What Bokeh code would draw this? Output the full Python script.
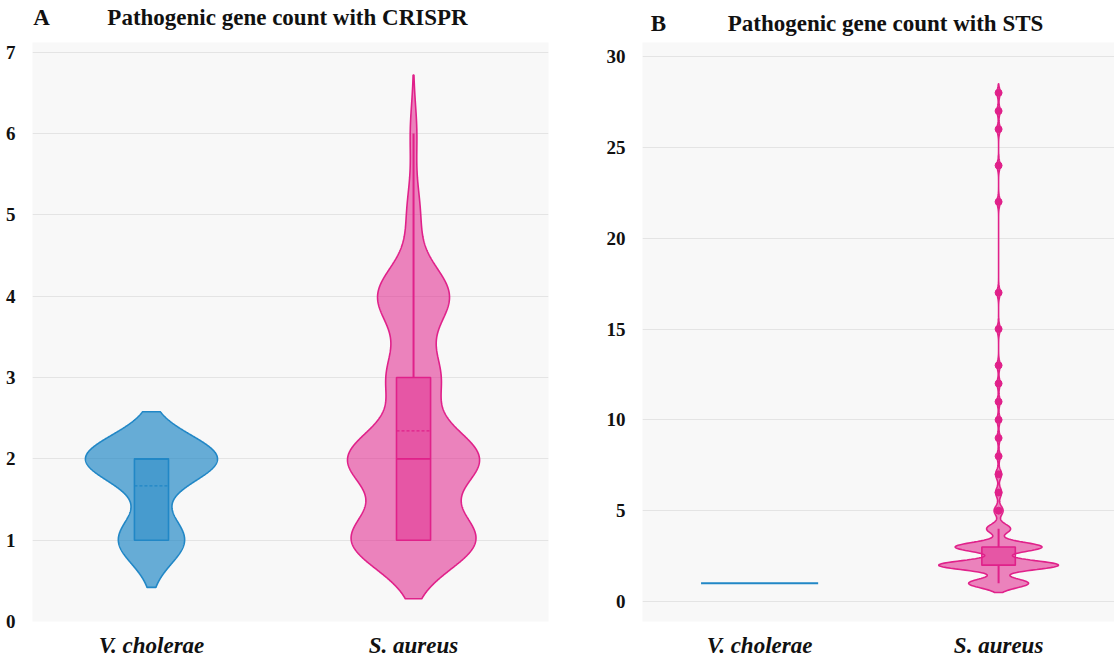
import numpy as np
from bokeh.plotting import figure
from bokeh.layouts import row
from bokeh.models import Range1d, FixedTicker, LinearAxis
from bokeh.embed import file_html
from bokeh.resources import INLINE

# ---------------- data ----------------
species = ["V. cholerae", "S. aureus"]

crispr_values = [1, 2, 3, 4, 5, 6]
crispr_vc_counts = [3, 6, 0, 0, 0, 0]
crispr_sa_counts = [19, 20, 8, 11, 2, 1]

sts_values = [1, 2, 3, 4, 5, 6, 7, 8, 9, 10, 11, 12, 13, 15, 17, 22, 24, 26, 27, 28]
sts_vc_counts = [6, 0, 0, 0, 0, 0, 0, 0, 0, 0, 0, 0, 0, 0, 0, 0, 0, 0, 0, 0]
sts_sa_counts = [20, 40, 29, 8, 3, 2, 2, 1, 1, 1, 1, 1, 1, 1, 1, 1, 1, 1, 1, 1]

crispr_ticks = [0, 1, 2, 3, 4, 5, 6, 7]
sts_ticks = [0, 5, 10, 15, 20, 25, 30]

titles = ["Pathogenic gene count with CRISPR", "Pathogenic gene count with STS"]
panel_letters = ["A", "B"]

# ---------------- style ----------------
BLUE = "#2187c6"
PINK = "#e0218a"
SERIF = "Liberation Serif"
BG = "#f8f8f8"
GRID = "#e4e4e4"


def make_fig(width, min_left, min_right, xr, yr, ticks):
    p = figure(width=width, height=660, output_backend="svg", toolbar_location=None,
               x_range=Range1d(*xr), y_range=Range1d(*yr),
               min_border_left=min_left, min_border_right=min_right,
               min_border_top=42, min_border_bottom=38)
    p.background_fill_color = BG
    p.border_fill_color = "white"
    p.outline_line_color = None
    p.xgrid.visible = False
    p.ygrid.grid_line_color = GRID
    p.ygrid.grid_line_width = 1
    p.yaxis.ticker = FixedTicker(ticks=ticks)
    p.xaxis.ticker = FixedTicker(ticks=[0, 1])
    p.xaxis.major_label_overrides = {0: species[0], 1: species[1]}
    for ax in (p.xaxis, p.yaxis):
        ax.axis_line_color = None
        ax.major_tick_line_color = None
        ax.minor_tick_line_color = None
        ax.major_label_text_font = SERIF
        ax.major_label_text_font_style = "bold"
        ax.major_label_text_color = "#111111"
    p.yaxis.major_label_text_font_size = "19px"
    p.yaxis.major_label_standoff = 11
    p.xaxis.major_label_text_font_size = "23px"
    p.xaxis.major_label_text_font_style = "bold italic"
    p.xaxis.major_label_standoff = 5
    return p


def add_titles(p, letter, title, frame_px, letter_px, title_px, standoff):
    # a title strip above the frame, in page-pixel units across the frame width
    p.extra_x_ranges = {"title": Range1d(*frame_px)}
    ax = LinearAxis(x_range_name="title", ticker=FixedTicker(ticks=[letter_px, title_px]),
                    major_label_overrides={letter_px: letter, title_px: title})
    ax.axis_line_color = None
    ax.major_tick_line_color = None
    ax.minor_tick_line_color = None
    ax.major_label_text_font = SERIF
    ax.major_label_text_font_style = "bold"
    ax.major_label_text_font_size = "23px"
    ax.major_label_text_color = "#111111"
    ax.major_label_standoff = standoff
    p.add_layout(ax, "above")


def draw_violin(p, xc, values, counts, bw, color, alpha, halfw, boxw):
    data = np.repeat(np.array(values, dtype=float), counts)
    if data.std() == 0:
        v = data[0]
        p.segment(x0=[xc - halfw], y0=[v], x1=[xc + halfw], y1=[v], line_color=color, line_width=2)
        return
    ys = np.linspace(data.min() - 2 * bw, data.max() + 2 * bw, 800)
    vals = np.array(values, dtype=float)
    cnts = np.array(counts, dtype=float)
    dens = (cnts[None, :] * np.exp(-0.5 * ((ys[:, None] - vals[None, :]) / bw) ** 2)).sum(axis=1)
    w = dens / dens.max() * halfw
    px = np.concatenate([xc - w, (xc + w)[::-1]])
    py = np.concatenate([ys, ys[::-1]])
    p.patch(px, py, fill_color=color, fill_alpha=alpha, line_color=color, line_width=1.6)

    q1, med, q3 = np.percentile(data, [25, 50, 75])
    mean = data.mean()
    iqr = q3 - q1
    inside = data[(data >= q1 - 1.5 * iqr) & (data <= q3 + 1.5 * iqr)]
    lo, hi = inside.min(), inside.max()
    if hi > q3:
        p.segment(x0=[xc], y0=[q3], x1=[xc], y1=[hi], line_color=color, line_width=2)
    if lo < q1:
        p.segment(x0=[xc], y0=[lo], x1=[xc], y1=[q1], line_color=color, line_width=2)
    p.quad(left=[xc - boxw], right=[xc + boxw], bottom=[q1], top=[q3],
           fill_color=color, fill_alpha=0.45, line_color=color, line_width=1.6)
    p.segment(x0=[xc - boxw], y0=[med], x1=[xc + boxw], y1=[med], line_color=color, line_width=1.6)
    if q1 <= mean <= q3:
        p.segment(x0=[xc - boxw], y0=[mean], x1=[xc + boxw], y1=[mean], line_color=color,
                  line_width=1.2, line_dash="3 2")
    out = data[(data < q1 - 1.5 * iqr) | (data > q3 + 1.5 * iqr)]
    if len(out):
        out = np.unique(out)
        p.scatter(x=np.full(len(out), xc), y=out, size=7, fill_color=color, line_color=color)


# ---------------- panel A ----------------
pA = make_fig(580, 32, 32, (-0.454, 1.515), (0, 7.12), crispr_ticks)
draw_violin(pA, 0, crispr_values, crispr_vc_counts, 0.29, BLUE, 0.68, 0.252, 0.065)
draw_violin(pA, 1, crispr_values, crispr_sa_counts, 0.36, PINK, 0.55, 0.252, 0.065)
add_titles(pA, panel_letters[0], titles[0], (32, 548), 41, 287, 7)

# ---------------- panel B ----------------
pB = make_fig(534, 62, 0, (-0.490, 1.485), (-1.1, 30.77), sts_ticks)
draw_violin(pB, 0, sts_values, sts_vc_counts, 0.25, BLUE, 0.68, 0.245, 0.07)
draw_violin(pB, 1, sts_values, sts_sa_counts, 0.25, PINK, 0.55, 0.251, 0.07)
add_titles(pB, panel_letters[1], titles[1], (642, 1114), 658, 885, 1)

layout = row(pA, pB)
open("out.html", "w").write(file_html(layout, INLINE))
